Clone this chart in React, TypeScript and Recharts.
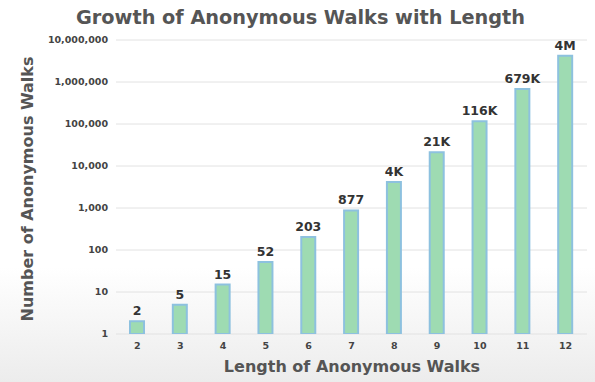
import { BarChart, Bar, XAxis, YAxis, CartesianGrid, LabelList } from 'recharts'

const lengths = ['2', '3', '4', '5', '6', '7', '8', '9', '10', '11', '12']
const walkCounts = [2, 5, 15, 52, 203, 877, 4140, 21147, 115975, 678570, 4213597]
const countLabels = ['2', '5', '15', '52', '203', '877', '4K', '21K', '116K', '679K', '4M']
const yTicks = [1, 10, 100, 1000, 10000, 100000, 1000000, 10000000]

const FONT = '"DejaVu Sans", Verdana, sans-serif'

const data = lengths.map((len, i) => ({ len, count: walkCounts[i], label: countLabels[i] }))

export default function App() {
  return (
    <div
      style={{
        position: 'absolute',
        left: 0,
        top: 0,
        width: 595,
        height: 382,
        fontFamily: FONT,
        background: 'linear-gradient(to top, #ececec 0%, #ffffff 30%)',
      }}
    >
      <div
        style={{
          position: 'absolute',
          left: 3,
          width: 595,
          top: 6,
          textAlign: 'center',
          fontSize: 19.3,
          fontWeight: 'bold',
          color: '#555',
        }}
      >
        Growth of Anonymous Walks with Length
      </div>
      <div
        style={{
          position: 'absolute',
          left: 27,
          top: 189,
          transform: 'translate(-50%, -50%) rotate(-90deg)',
          whiteSpace: 'nowrap',
          fontSize: 16,
          fontWeight: 'bold',
          color: '#555',
        }}
      >
        Number of Anonymous Walks
      </div>
      <div
        style={{
          position: 'absolute',
          left: 352,
          top: 366,
          transform: 'translate(-50%, -50%)',
          whiteSpace: 'nowrap',
          fontSize: 16,
          fontWeight: 'bold',
          color: '#555',
        }}
      >
        Length of Anonymous Walks
      </div>
      <BarChart
        width={595}
        height={382}
        data={data}
        margin={{ top: 40, right: 8, bottom: 28, left: 40 }}
        style={{ position: 'absolute', left: 0, top: 0 }}
      >
        <CartesianGrid vertical={false} stroke="#e2e2e2" />
        <XAxis
          dataKey="len"
          height={20}
          axisLine={false}
          tickLine={false}
          tick={{ fontSize: 9.5, fontWeight: 'bold', fill: '#444', fontFamily: FONT }}
        />
        <YAxis
          scale="log"
          domain={[1, 10000000]}
          ticks={yTicks}
          width={76}
          axisLine={false}
          tickLine={false}
          allowDataOverflow
          tickFormatter={(v: number) => v.toLocaleString('en-US')}
          tick={{ fontSize: 9.5, fontWeight: 'bold', fill: '#444', fontFamily: FONT }}
        />
        <Bar
          dataKey="count"
          barSize={14}
          fill="#9edbb2"
          stroke="#8dc1df"
          strokeWidth={2}
          isAnimationActive={false}
        >
          <LabelList
            dataKey="label"
            position="top"
            offset={6}
            style={{ fontSize: 12.5, fontWeight: 'bold', fill: '#333', fontFamily: FONT }}
          />
        </Bar>
      </BarChart>
    </div>
  )
}
